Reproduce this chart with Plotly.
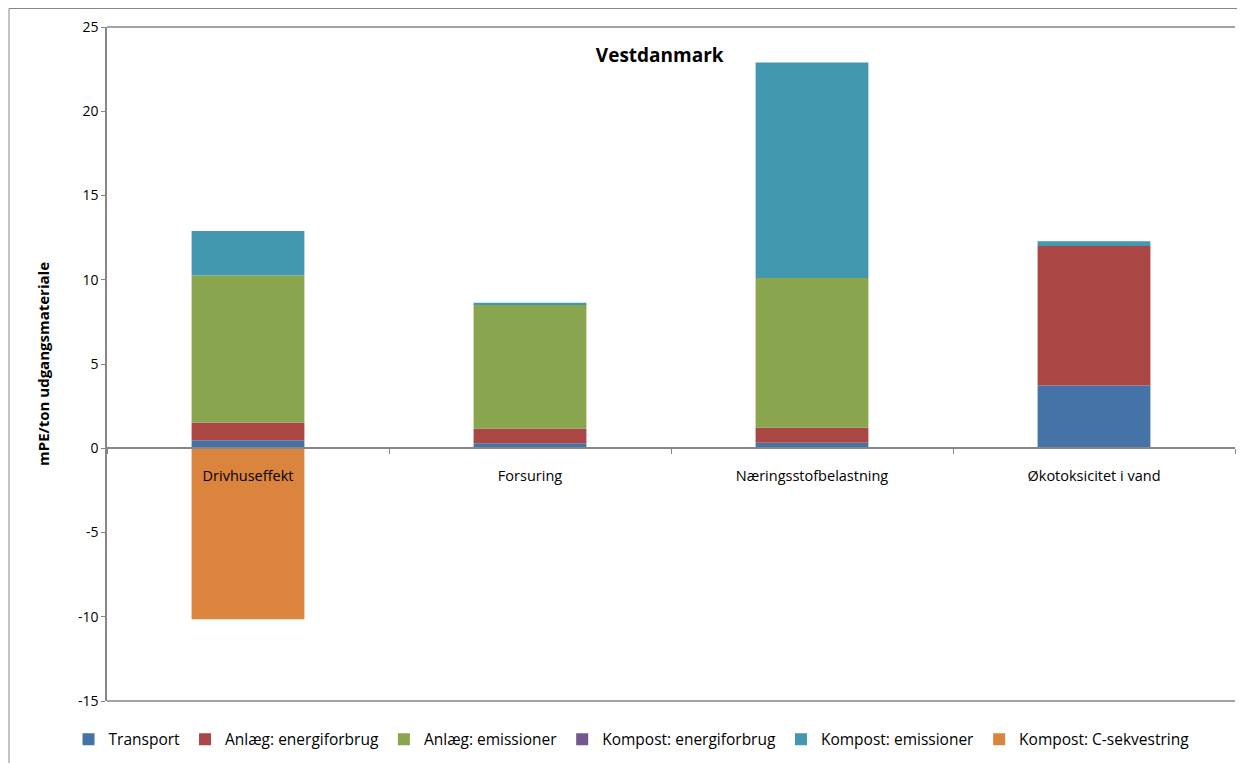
import plotly.graph_objects as go

categories = ["Drivhuseffekt", "Forsuring", "Næringsstofbelastning", "Økotoksicitet i vand"]

series_names = [
    "Transport",
    "Anlæg: energiforbrug",
    "Anlæg: emissioner",
    "Kompost: energiforbrug",
    "Kompost: emissioner",
    "Kompost: C-sekvestring",
]
transport = [0.48, 0.30, 0.32, 3.72]
anlaeg_energi = [1.05, 0.87, 0.90, 8.28]
anlaeg_emission = [8.72, 7.38, 8.88, 0.0]
kompost_energi = [0.0, 0.0, 0.0, 0.0]
kompost_emission = [2.64, 0.09, 12.79, 0.29]
kompost_csekv = [-10.15, 0.0, 0.0, 0.0]

y_tick_values = [-15, -10, -5, 0, 5, 10, 15, 20, 25]
y_tick_labels = ["-15", "-10", "-5", "0", "5", "10", "15", "20", "25"]

series_values = [transport, anlaeg_energi, anlaeg_emission, kompost_energi, kompost_emission, kompost_csekv]
colors = ["#4572A7", "#AA4643", "#89A54E", "#71588F", "#4198AF", "#DB843D"]

y_min, y_max = -15, 25

fig = go.Figure()
for name, vals, col in zip(series_names, series_values, colors):
    fig.add_trace(go.Bar(
        name=name, x=categories, y=vals,
        marker=dict(color=col, line=dict(width=0)),
    ))

axis_gray = "#868686"
font_family = "Open Sans, Liberation Sans, sans-serif"

# page body has an 8px margin; compensate so the chart lands like the reference
W, H = 1237, 755
ml, mr, mt, mb = 99, 10, 19, 62
plot_w = W - ml - mr
plot_h = H - mt - mb

fig.update_layout(
    width=W, height=H,
    barmode="relative",
    bargap=0.6,
    plot_bgcolor="white",
    paper_bgcolor="white",
    margin=dict(l=ml, r=mr, t=mt, b=mb, autoexpand=False),
    font=dict(family=font_family, size=13, color="#000000"),
    showlegend=True,
    legend=dict(
        orientation="h", x=0.465, xanchor="center", y=-0.032, yanchor="top",
        font=dict(size=15.5, family=font_family), traceorder="normal",
        itemwidth=30, tracegroupgap=0,
    ),
    title=dict(text="<b>Vestdanmark</b>", xref="paper", x=0.49, xanchor="center",
               y=(H - 55 + 8) / H, yanchor="middle", font=dict(size=19, family=font_family)),
    xaxis=dict(
        type="category", automargin=False,
        anchor="free", position=(0 - y_min) / (y_max - y_min),
        showline=True, linecolor=axis_gray, linewidth=2,
        ticks="outside", tickson="boundaries", ticklen=5, tickcolor=axis_gray,
        showgrid=False, zeroline=False,
        tickfont=dict(size=14.5, family=font_family),
        ticklabelstandoff=14,
    ),
    yaxis=dict(
        range=[y_min, y_max], automargin=False,
        tickmode="array", tickvals=y_tick_values, ticktext=y_tick_labels,
        showline=True, linecolor=axis_gray, linewidth=1.5,
        ticks="outside", ticklen=4, tickcolor=axis_gray,
        showgrid=False, zeroline=False,
        tickfont=dict(size=14, family=font_family),
        title=dict(text="<b>mPE/ton udgangsmateriale</b>", font=dict(size=15, family=font_family), standoff=25),
    ),
    shapes=[
        dict(type="line", xref="paper", yref="paper", x0=0, x1=1, y0=1, y1=1,
             line=dict(color=axis_gray, width=1.5)),
        dict(type="line", xref="paper", yref="paper", x0=0, x1=1, y0=0, y1=0,
             line=dict(color=axis_gray, width=1.5)),
        dict(type="rect", xref="paper", yref="paper",
             x0=(1 - ml) / plot_w, x1=1.05, y0=-0.2, y1=1 + (mt - 0.5) / plot_h,
             line=dict(color=axis_gray, width=1), fillcolor="rgba(0,0,0,0)", layer="below"),
    ],
)

fig.write_html("out.html")
